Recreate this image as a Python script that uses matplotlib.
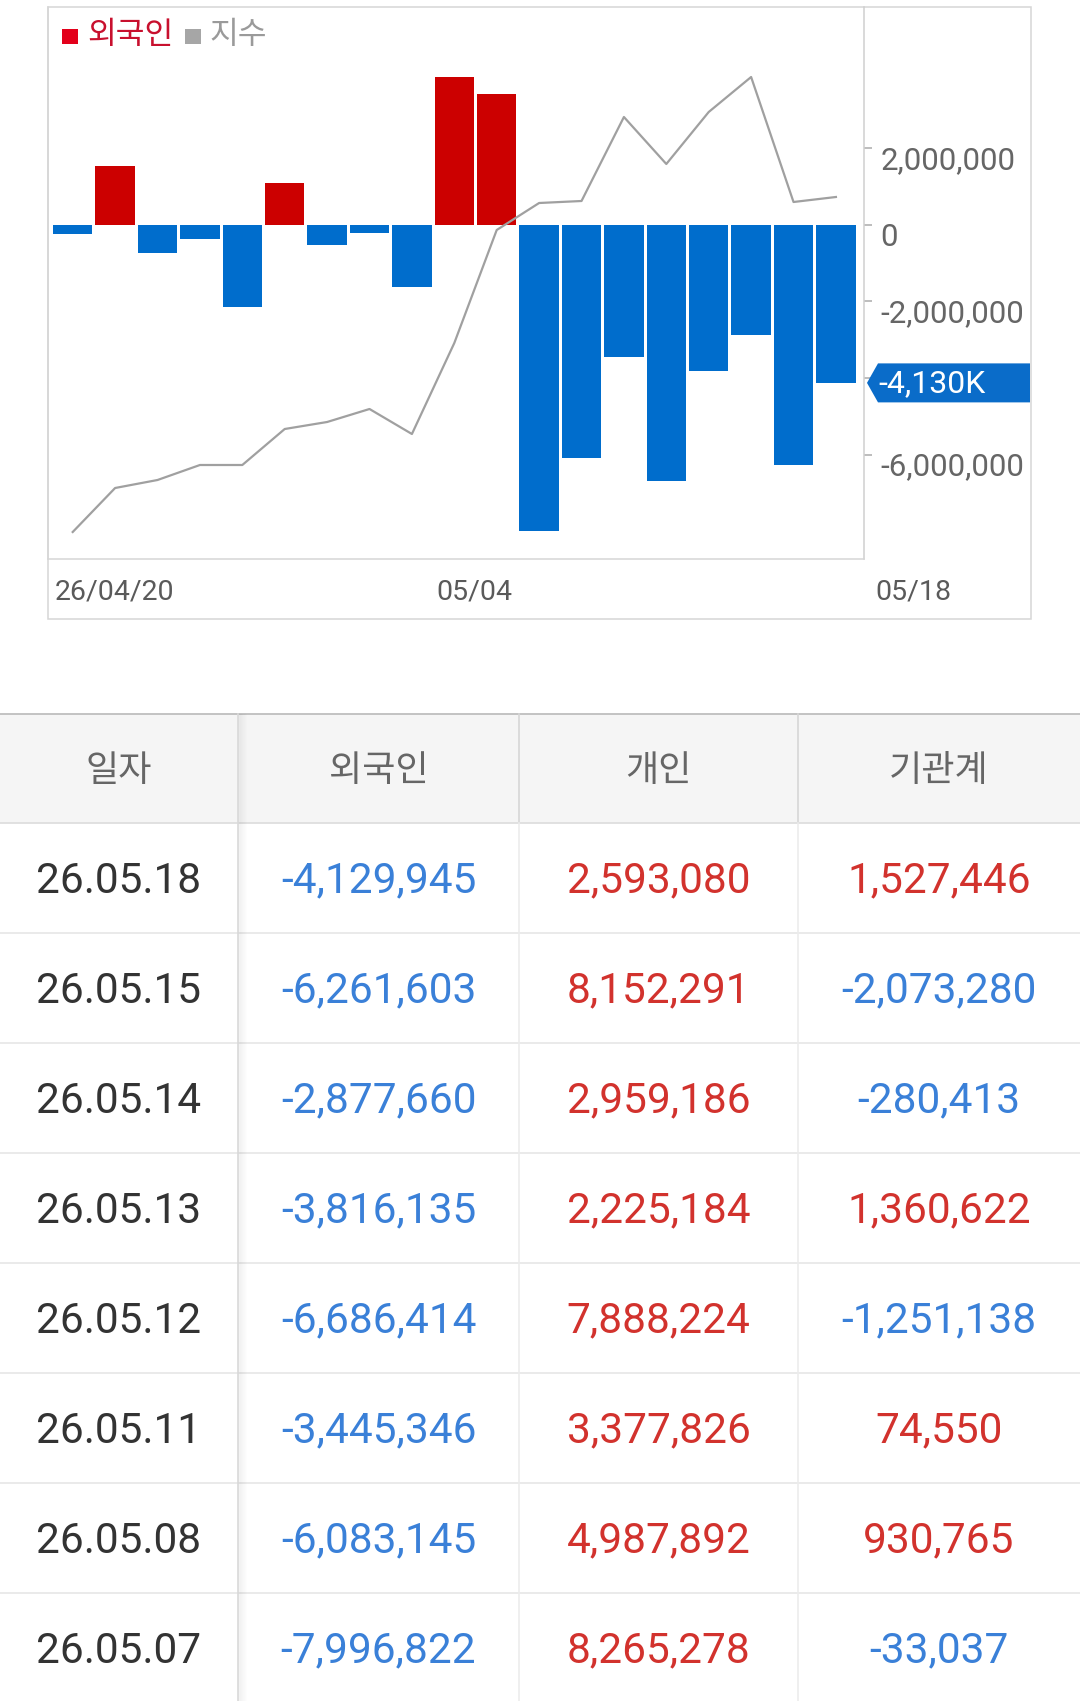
import matplotlib
matplotlib.use("Agg")
import matplotlib.pyplot as plt
from matplotlib.patches import Rectangle, Polygon
from matplotlib.transforms import IdentityTransform, blended_transform_factory, ScaledTranslation

# ---------------- data ----------------
chart_dates = ["04/20", "04/21", "04/22", "04/23", "04/24", "04/27", "04/28", "04/29", "04/30",
               "05/04", "05/06", "05/07", "05/08", "05/11", "05/12", "05/13", "05/14", "05/15", "05/18"]
chart_foreign = [-250000, 1540000, -730000, -380000, -2140000, 1090000, -520000, -210000, -1630000,
                 3860000, 3410000, -7996822, -6083145, -3445346, -6686414, -3816135, -2877660,
                 -6261603, -4129945]
# index line (relative units)
chart_index = [27, 71, 79, 94, 94, 130, 137, 150, 125, 216, 329, 356, 358, 442, 395, 447, 482, 357, 362]
x_labels = ["26/04/20", "05/04", "05/18"]
x_label_pos = [0, 9, 19.35]
y_ticks = [2000000, 0, -2000000, -4000000, -6000000]

table_header = ["일자", "외국인", "개인", "기관계"]
table_dates = ["26.05.18", "26.05.15", "26.05.14", "26.05.13", "26.05.12", "26.05.11", "26.05.08", "26.05.07"]
table_foreign = [-4129945, -6261603, -2877660, -3816135, -6686414, -3445346, -6083145, -7996822]
table_individual = [2593080, 8152291, 2959186, 2225184, 7888224, 3377826, 4987892, 8265278]
table_institution = [1527446, -2073280, -280413, 1360622, -1251138, 74550, 930765, -33037]

# ---------------- style ----------------
W, H = 1080, 1701
FONT = ["Roboto", "Noto Sans CJK KR", "DejaVu Sans"]
KFONT = ["Noto Sans CJK KR", "DejaVu Sans"]
plt.rcParams["font.family"] = FONT
RED_BAR = "#cc0000"
BLUE_BAR = "#006dcc"
RED_TXT = "#d2322d"
BLUE_TXT = "#3a80d8"

fig = plt.figure(figsize=(W / 100, H / 100), dpi=100)
fig.patch.set_facecolor("white")

# overlay axes in pixel coordinates (for frame, legend and table)
ov = fig.add_axes([0, 0, 1, 1])
ov.set_xlim(0, W)
ov.set_ylim(H, 0)
ov.axis("off")

# outer chart box
ov.add_patch(Rectangle((48, 7), 1031 - 48, 619 - 7, fill=False, ec="#d6d6d6", lw=1.1))

# legend
ov.add_patch(Rectangle((62, 29), 16, 15, color="#e3001b", lw=0))
ov.text(87, 35.5, "외국인", family=KFONT, fontsize=22.5, color="#c8102e", va="center", ha="left")
ov.add_patch(Rectangle((185, 29), 16, 15, color="#a6a6a6", lw=0))
ov.text(209, 35.5, "지수", family=KFONT, fontsize=22.5, color="#9a9a9a", va="center", ha="left")

# ---------------- chart ----------------
ax = fig.add_axes([48 / W, 1 - 559 / H, (864 - 48) / W, (559 - 7) / H])
ax.set_facecolor("none")
n = len(chart_foreign)
xs = list(range(n))
bw = 0.93
colors = [RED_BAR if v > 0 else BLUE_BAR for v in chart_foreign]
ax.bar(xs, chart_foreign, width=bw, color=colors, linewidth=0, zorder=2)

px_per_unit = 42.4
xlim = (-bw / 2 - 5 / px_per_unit, -bw / 2 + (864 - 53) / px_per_unit)
ax.set_xlim(*xlim)
ax.set_ylim(-8.728e6, 5.684e6)

# index line on a hidden twin axis
ax2 = ax.twinx()
ax2.set_ylim(0, 552)
ax2.set_xlim(*xlim)
ax2.plot(xs, chart_index, color="#a0a0a0", lw=1.6, zorder=3)
ax2.axis("off")

ax.spines["top"].set_visible(False)
ax.spines["left"].set_color("#d6d6d6")
ax.spines["bottom"].set_color("#d6d6d6")
ax.spines["right"].set_color("#cfcfcf")
for s in ["left", "bottom", "right"]:
    ax.spines[s].set_linewidth(1.1)

ax.yaxis.tick_right()
ax.yaxis.set_label_position("right")
ax.set_yticks(y_ticks)
ax.set_yticklabels(["" if t == -4000000 else f"{t:,}" for t in y_ticks])
ax.tick_params(axis="y", which="both", left=False, labelleft=False, right=True, labelright=True,
               length=6, width=1.4, color="#bdbdbd", pad=6,
               labelsize=22.5, labelcolor="#666666")
shift = ScaledTranslation(0, 0.022, fig.dpi_scale_trans)
for lab in ax.get_yticklabels():
    lab.set_verticalalignment("top")
    lab.set_transform(lab.get_transform() + shift)
ax.set_xticks([])

# x labels
tr = blended_transform_factory(ax.transData, ax.transAxes)
for lab, pos in zip(x_labels, x_label_pos):
    ax.text(pos - bw / 2 + 2 / px_per_unit, -33 / 552, lab, transform=tr, fontsize=20.5,
            color="#5a5a5a", ha="left", va="center", clip_on=False)

# current value tag
fig.canvas.draw()
last = chart_foreign[-1]
ypix = ax.transData.transform((0, last))[1]
hh = 19.5
tag = Polygon([(867, ypix), (878, ypix + hh), (1030, ypix + hh), (1030, ypix - hh), (878, ypix - hh)],
              closed=True, transform=IdentityTransform(), color="#0a6cc9", lw=0, zorder=10)
fig.patches.append(tag)
tag.set_figure(fig)
fig.text(878 / W, (ypix - 1) / H, f"{round(last / 1000):,}K", fontsize=23, color="white",
         ha="left", va="center", zorder=11)

# ---------------- table ----------------
top = 714
head_h = 109
row_h = 110
col_edges = [0, 238, 519, 798, 1080]
col_centers = [(col_edges[i] + col_edges[i + 1]) / 2 for i in range(4)]

ov.add_patch(Rectangle((0, top), W, head_h, color="#f5f5f5", lw=0))
ov.plot([0, W], [top, top], color="#b9b9b9", lw=1.2)
ov.plot([0, W], [top + head_h, top + head_h], color="#dcdcdc", lw=1.2)
for i, h in enumerate(table_header):
    ov.text(col_centers[i], top + head_h / 2 + 2, h, family=KFONT, fontsize=26, color="#666666",
            ha="center", va="center")

for r in range(len(table_dates)):
    y0 = top + head_h + r * row_h
    yc = y0 + row_h / 2 + 3
    if r > 0:
        ov.plot([0, W], [y0, y0], color="#e6e6e6", lw=1.2)
    ov.text(col_centers[0], yc, table_dates[r], fontsize=30.5, color="#333333", ha="center", va="center")
    for ci, vals in zip([1, 2, 3], [table_foreign, table_individual, table_institution]):
        v = vals[r]
        ov.text(col_centers[ci], yc, f"{v:,}", fontsize=30.5,
                color=BLUE_TXT if v < 0 else RED_TXT, ha="center", va="center")

# column dividers
for xe in col_edges[2:4]:
    ov.plot([xe, xe], [top, top + head_h], color="#d6d6d6", lw=1.2)
    ov.plot([xe, xe], [top + head_h, H], color="#ececec", lw=1.2)
# sticky first column shadow
ov.plot([238, 238], [top, H], color="#d9d9d9", lw=1.2)
for k in range(1, 9):
    ov.plot([238 + k, 238 + k], [top, H], color="black", alpha=0.045 * (1 - k / 9), lw=1.0)

fig.savefig("out.png", dpi=100, facecolor="white")
